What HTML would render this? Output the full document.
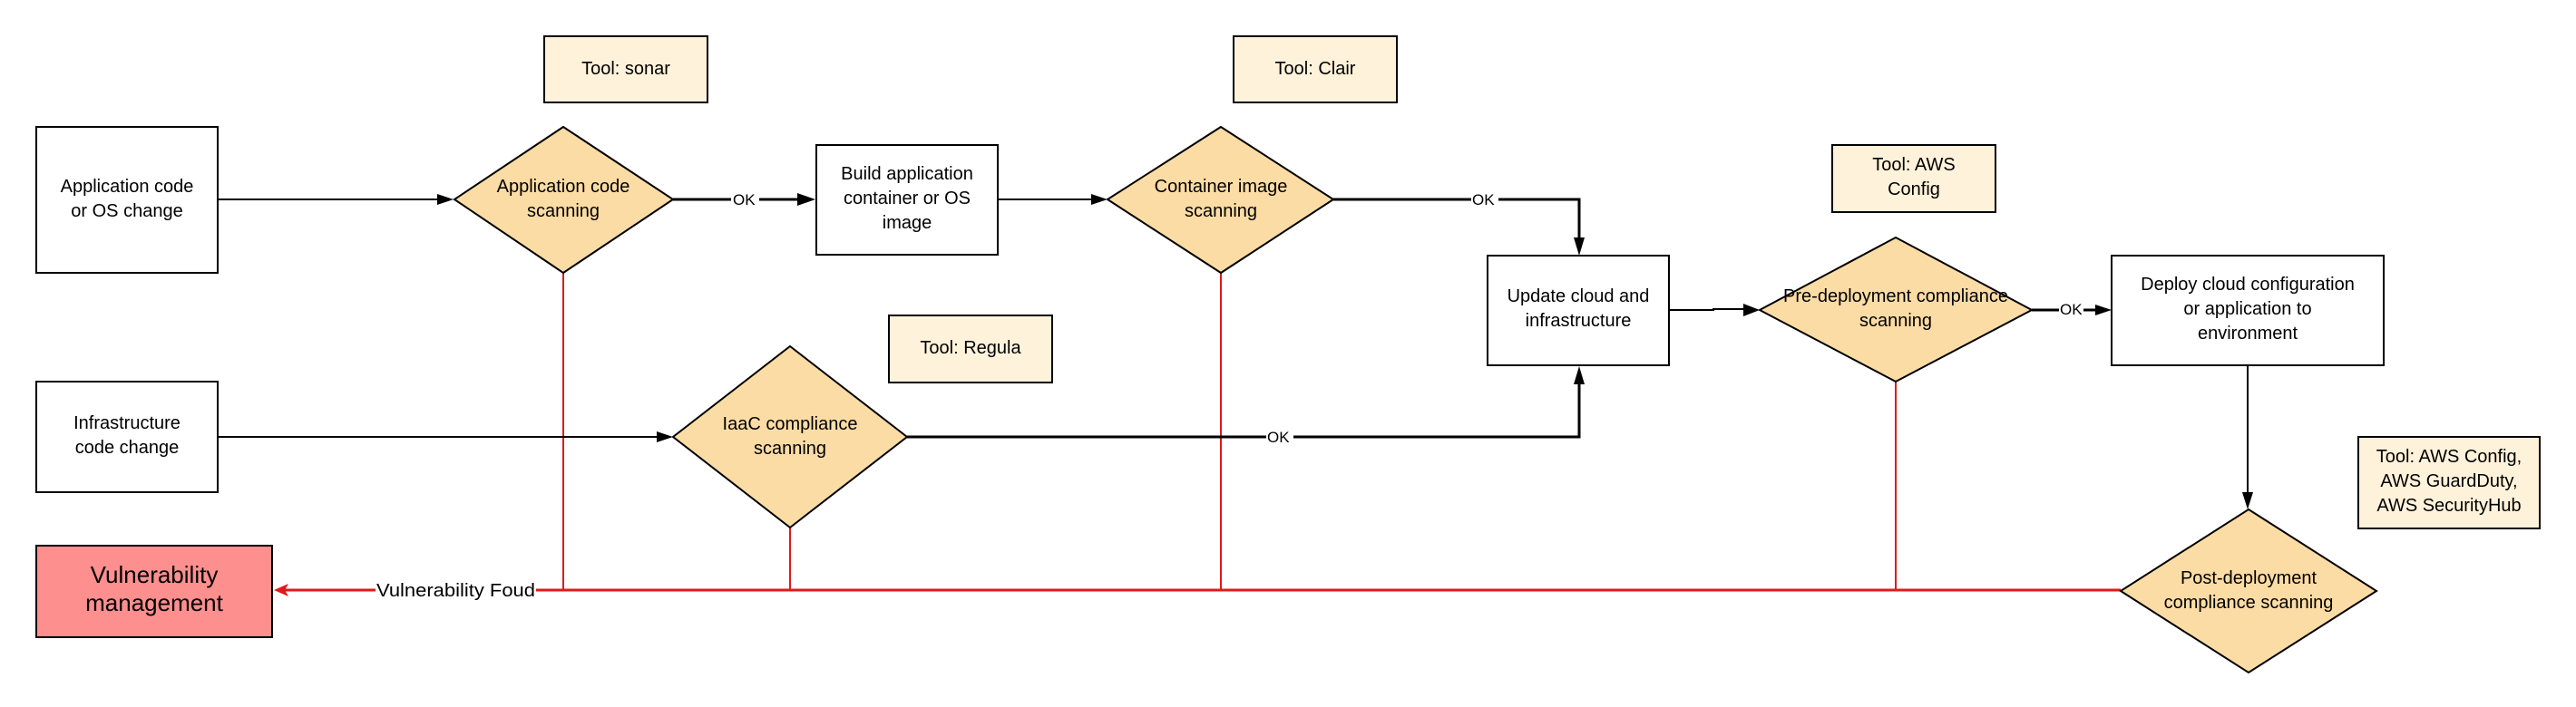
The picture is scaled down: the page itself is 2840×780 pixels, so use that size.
<!DOCTYPE html>
<html><head><meta charset="utf-8"><style>
html,body{margin:0;padding:0;background:#fff;}
svg{display:block;}
text{font-family:"Liberation Sans",sans-serif;fill:#000;}
</style></head><body>
<svg width="2840" height="780" viewBox="0 0 2840 780" xmlns="http://www.w3.org/2000/svg">

<!-- red lines -->
<g stroke="#e01a1a" fill="none">
<line x1="621" y1="301" x2="621" y2="651" stroke-width="2"/>
<line x1="871" y1="582" x2="871" y2="651" stroke-width="2"/>
<line x1="1346" y1="301" x2="1346" y2="651" stroke-width="2"/>
<line x1="2090" y1="421" x2="2090" y2="651" stroke-width="2"/>
<line x1="2338" y1="651" x2="591" y2="651" stroke-width="3"/>
<line x1="414" y1="651" x2="312" y2="651" stroke-width="3"/>
<path d="M302,651 L318,644 L314,651 L318,658 z" fill="#e01a1a" stroke="none"/>
</g>
<text x="415" y="658" font-size="20" textLength="175" lengthAdjust="spacingAndGlyphs">Vulnerability Foud</text>

<!-- black connectors -->
<g stroke="#000" fill="none">
<line x1="240" y1="220" x2="490" y2="220" stroke-width="2"/>
<path d="M500,220 L482,214 L482,226 z" fill="#000" stroke="none"/>
<line x1="742" y1="220" x2="806" y2="220" stroke-width="3"/>
<line x1="837" y1="220" x2="884" y2="220" stroke-width="3"/>
<path d="M899,220 L879,213 L879,227 z" fill="#000" stroke="none"/>
<line x1="1100" y1="220" x2="1208" y2="220" stroke-width="2"/>
<path d="M1221,220 L1203,214 L1203,226 z" fill="#000" stroke="none"/>
<polyline points="1470,220 1741,220 1741,266" stroke-width="3"/>
<path d="M1741,282 L1735,262 L1747,262 z" fill="#000" stroke="none"/>
<line x1="240" y1="482" x2="728" y2="482" stroke-width="2"/>
<path d="M742,482 L724,476 L724,488 z" fill="#000" stroke="none"/>
<polyline points="1000,482 1741,482 1741,420" stroke-width="3"/>
<path d="M1741,404 L1735,424 L1747,424 z" fill="#000" stroke="none"/>
<polyline points="1840,342 1889,342 1889,341 1925,341" stroke-width="2"/>
<path d="M1940,342 L1922,335 L1922,349 z" fill="#000" stroke="none"/>
<line x1="2240" y1="342" x2="2270" y2="342" stroke-width="3"/>
<line x1="2297" y1="342" x2="2314" y2="342" stroke-width="3"/>
<path d="M2328,342 L2310,336 L2310,348 z" fill="#000" stroke="none"/>
<line x1="2478" y1="403" x2="2478" y2="546" stroke-width="2"/>
<path d="M2478,562 L2472,543 L2484,543 z" fill="#000" stroke="none"/>
</g>
<g font-size="17">
<rect x="806" y="208" width="31" height="20" fill="#fff"/><text x="808" y="226">OK</text>
<rect x="1622" y="208" width="30" height="20" fill="#fff"/><text x="1623" y="226">OK</text>
<rect x="1396" y="470" width="30" height="20" fill="#fff"/><text x="1397" y="488">OK</text>
<rect x="2270" y="330" width="27" height="20" fill="#fff"/><text x="2271" y="347">OK</text>
</g>

<!-- boxes -->
<g stroke="#000" stroke-width="2">
<rect x="40" y="140" width="200" height="161" fill="#fff"/>
<rect x="40" y="421" width="200" height="122" fill="#fff"/>
<rect x="40" y="602" width="260" height="101" fill="#fd8f8f"/>
<rect x="900" y="160" width="200" height="121" fill="#fff"/>
<rect x="1640" y="282" width="200" height="121" fill="#fff"/>
<rect x="2328" y="282" width="300" height="121" fill="#fff"/>
<rect x="600" y="40" width="180" height="73" fill="#fff2da"/>
<rect x="1360" y="40" width="180" height="73" fill="#fff2da"/>
<rect x="980" y="348" width="180" height="74" fill="#fff2da"/>
<rect x="2020" y="160" width="180" height="74" fill="#fff2da"/>
<rect x="2600" y="482" width="200" height="101" fill="#fff2da"/>
<polygon points="621,140 742,220 621,301 501,220" fill="#fcdca5"/>
<polygon points="1346,140 1470,220 1346,301 1221,220" fill="#fcdca5"/>
<polygon points="871,382 1000,482 871,582 742,482" fill="#fcdca5"/>
<polygon points="2090,262 2240,342 2090,421 1940,342" fill="#fcdca5"/>
<polygon points="2479,562 2620,652 2479,742 2338,652" fill="#fcdca5"/>
</g>

<g font-size="20" text-anchor="middle">
<text x="140" y="212">Application code</text><text x="140" y="239">or OS change</text>
<text x="140" y="473">Infrastructure</text><text x="140" y="500">code change</text>
<text x="170" y="643" font-size="26">Vulnerability</text><text x="170" y="674" font-size="26">management</text>
<text x="1000" y="198">Build application</text><text x="1000" y="225">container or OS</text><text x="1000" y="252">image</text>
<text x="1740" y="333">Update cloud and</text><text x="1740" y="360">infrastructure</text>
<text x="2478" y="320">Deploy cloud configuration</text><text x="2478" y="347">or application to</text><text x="2478" y="374">environment</text>
<text x="690" y="82">Tool: sonar</text>
<text x="1450" y="82">Tool: Clair</text>
<text x="1070" y="390">Tool: Regula</text>
<text x="2110" y="188">Tool: AWS</text><text x="2110" y="215">Config</text>
<text x="2700" y="510">Tool: AWS Config,</text><text x="2700" y="537">AWS GuardDuty,</text><text x="2700" y="564">AWS SecurityHub</text>
<text x="621" y="212">Application code</text><text x="621" y="239">scanning</text>
<text x="1346" y="212">Container image</text><text x="1346" y="239">scanning</text>
<text x="871" y="474">IaaC compliance</text><text x="871" y="501">scanning</text>
<text x="2090" y="333">Pre-deployment compliance</text><text x="2090" y="360">scanning</text>
<text x="2479" y="644">Post-deployment</text><text x="2479" y="671">compliance scanning</text>
</g>
</svg>
</body></html>
